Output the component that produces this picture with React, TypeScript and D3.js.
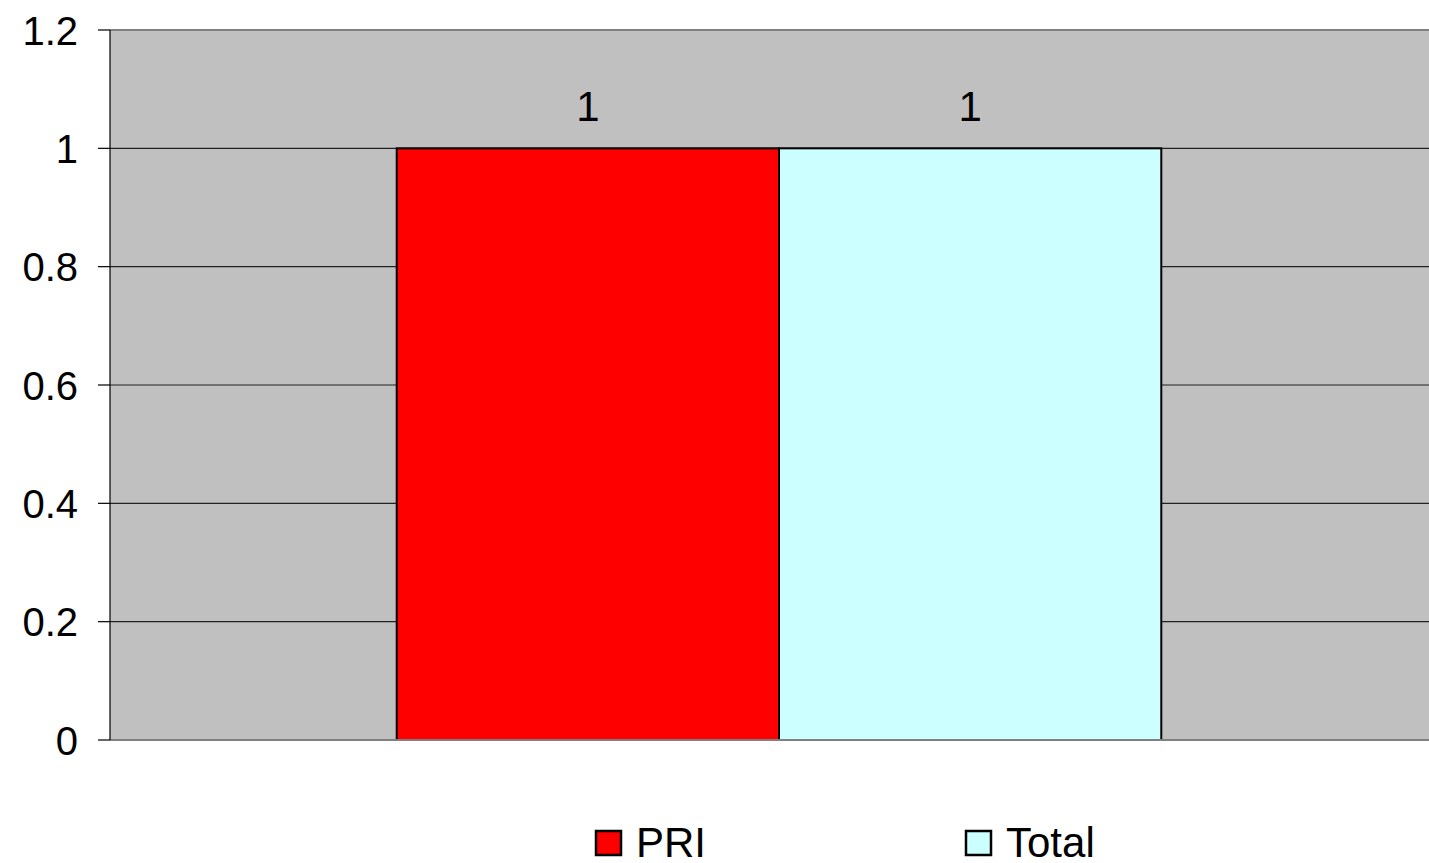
import * as d3 from "d3";

const categories = [""];
const seriesNames = ["PRI", "Total"];
const seriesColors = ["#FF0000", "#CCFFFF"];
const values = [[1], [1]]; // values[series][category]
const yTicks = [0, 0.2, 0.4, 0.6, 0.8, 1, 1.2];

const W = 1429;
const H = 863;
const plot = { left: 110, top: 30, bottom: 740, right: 1448 };
const font = "Arial, 'Liberation Sans', sans-serif";

export default function App() {
  const y = d3.scaleLinear().domain([0, 1.2]).range([plot.bottom, plot.top]);
  const x = d3.scaleBand<string>().domain(categories).range([plot.left, plot.right]);
  // Excel gap width 75%
  const groupW = x.bandwidth() / 1.75;
  const xs = d3.scaleBand<string>().domain(seriesNames).range([0, groupW]);
  const fmt = (v: number) => d3.format("")(+v.toFixed(1));

  return (
    <svg
      width={W}
      height={H}
      style={{ position: "absolute", left: 0, top: 0, display: "block" }}
      fontFamily={font}
    >
      <rect x={0} y={0} width={W} height={H} fill="#fff" />
      <rect
        x={plot.left}
        y={plot.top}
        width={plot.right - plot.left}
        height={plot.bottom - plot.top}
        fill="#C0C0C0"
      />
      {yTicks.slice(1, -1).map((t) => (
        <line key={t} x1={plot.left} x2={plot.right} y1={y(t)} y2={y(t)} stroke="#222" strokeWidth={1.2} />
      ))}
      <line x1={plot.left} x2={plot.right} y1={plot.top} y2={plot.top} stroke="#808080" strokeWidth={2} />
      {categories.map((c, ci) => {
        const gx = (x(c) ?? 0) + (x.bandwidth() - groupW) / 2;
        return seriesNames.map((s, si) => {
          const v = values[si][ci];
          const bx = gx + (xs(s) ?? 0);
          return (
            <g key={s}>
              <rect
                x={bx}
                y={y(v)}
                width={xs.bandwidth()}
                height={y(0) - y(v)}
                fill={seriesColors[si]}
                stroke="#000"
                strokeWidth={2}
              />
              <text x={bx + xs.bandwidth() / 2} y={y(v) - 27} textAnchor="middle" fontSize={42}>
                {v}
              </text>
            </g>
          );
        });
      })}
      <line x1={plot.left} x2={plot.right} y1={plot.bottom} y2={plot.bottom} stroke="#808080" strokeWidth={2} />
      <line x1={plot.left} x2={plot.left} y1={plot.top} y2={plot.bottom} stroke="#000" strokeWidth={1.2} />
      {yTicks.map((t) => (
        <g key={t}>
          <line x1={98} x2={plot.left} y1={y(t)} y2={y(t)} stroke="#000" strokeWidth={1.2} />
          <text x={78} y={y(t) + 14.5} textAnchor="end" fontSize={40}>
            {fmt(t)}
          </text>
        </g>
      ))}
      {seriesNames.map((s, i) => {
        const lx = [596, 966][i];
        return (
          <g key={s}>
            <rect x={lx} y={831} width={25} height={24} fill={seriesColors[i]} stroke="#000" strokeWidth={2.5} />
            <text x={lx + 40} y={857} fontSize={42}>
              {s}
            </text>
          </g>
        );
      })}
    </svg>
  );
}
